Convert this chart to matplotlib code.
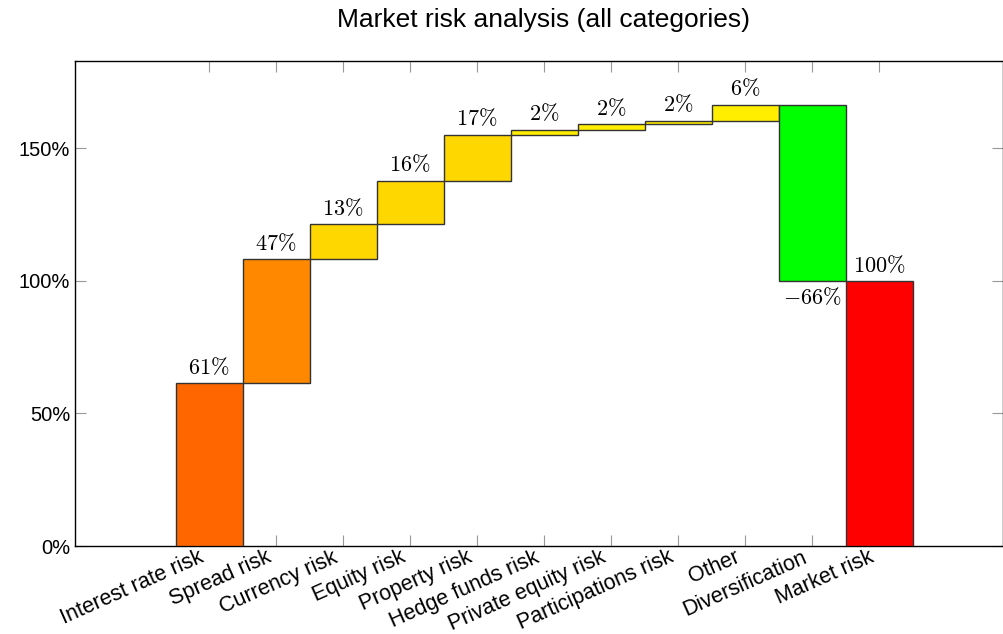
# -*- coding: utf-8 -*-
# waterfall chart of market risk contributions
import numpy as np
import matplotlib.pyplot as plt
from matplotlib.ticker import FuncFormatter
from matplotlib.transforms import ScaledTranslation

categories = ['Interest rate risk', 'Spread risk', 'Currency risk', 'Equity risk',
              'Property risk', 'Hedge funds risk', 'Private equity risk',
              'Participations risk', 'Other', 'Diversification', 'Market risk']
values = [61.4, 46.7, 13.4, 16.3, 17.4, 1.9, 1.9, 1.5, 6.0, -66.4, 100.0]
colors = ['#ff6600', '#ff8800', '#ffd700', '#ffd700', '#ffd700', '#ffee00',
          '#ffee00', '#ffee00', '#ffee00', '#00ff00', '#ff0000']

plt.rcParams['mathtext.fontset'] = 'cm'
plt.rcParams['font.family'] = ['Liberation Sans', 'DejaVu Sans']

x = np.arange(len(categories))
vals = np.array(values)
# running total; the last bar is the total itself, starting from 0
bottoms = np.concatenate([[0], np.cumsum(vals[:-2]), [0]]).astype(float)

fig = plt.figure(figsize=(10.04, 6.34), dpi=100)
ax = fig.add_axes([0.0747, 0.1388, 0.9243, 0.7652])
ax.bar(x, vals, bottom=bottoms, width=1.0, color=colors,
       edgecolor='#333333', linewidth=1.0, zorder=3)

for xi, b, v in zip(x, bottoms, vals):
    lbl = r'$%d\%%$' % int(round(v))
    if v >= 0:
        ax.annotate(lbl, (xi, b + v), xytext=(0, 3), textcoords='offset points',
                    ha='center', va='bottom', fontsize=16)
    else:
        ax.annotate(lbl, (xi, b + v), xytext=(0, -5),
                    textcoords='offset points', ha='center', va='top', fontsize=16)

ax.set_xlim(-2.0, 11.85)
ax.set_ylim(0, 183)
ax.set_yticks([0, 50, 100, 150])
ax.yaxis.set_major_formatter(FuncFormatter(lambda v, p: '%d%%' % v))
ax.set_xticks(x)
ax.set_xticklabels(categories)
ax.tick_params(axis='both', direction='in', length=8, width=0.8, color='#999999',
               labelsize=14.5, top=True, right=True)
ax.tick_params(axis='x', pad=7.5, labelsize=15.5)
shift = ScaledTranslation(-0.06, 0, fig.dpi_scale_trans)
for lab in ax.get_xticklabels():
    lab.set_rotation(24)
    lab.set_ha('right')
    lab.set_va('center')
    lab.set_rotation_mode('anchor')
    lab.set_transform(lab.get_transform() + shift)
for s in ax.spines.values():
    s.set_linewidth(1.0)

fig.text(0.541, 0.968, 'Market risk analysis (all categories)', ha='center',
         va='center', fontsize=19)

plt.savefig('out.png', dpi=100)
